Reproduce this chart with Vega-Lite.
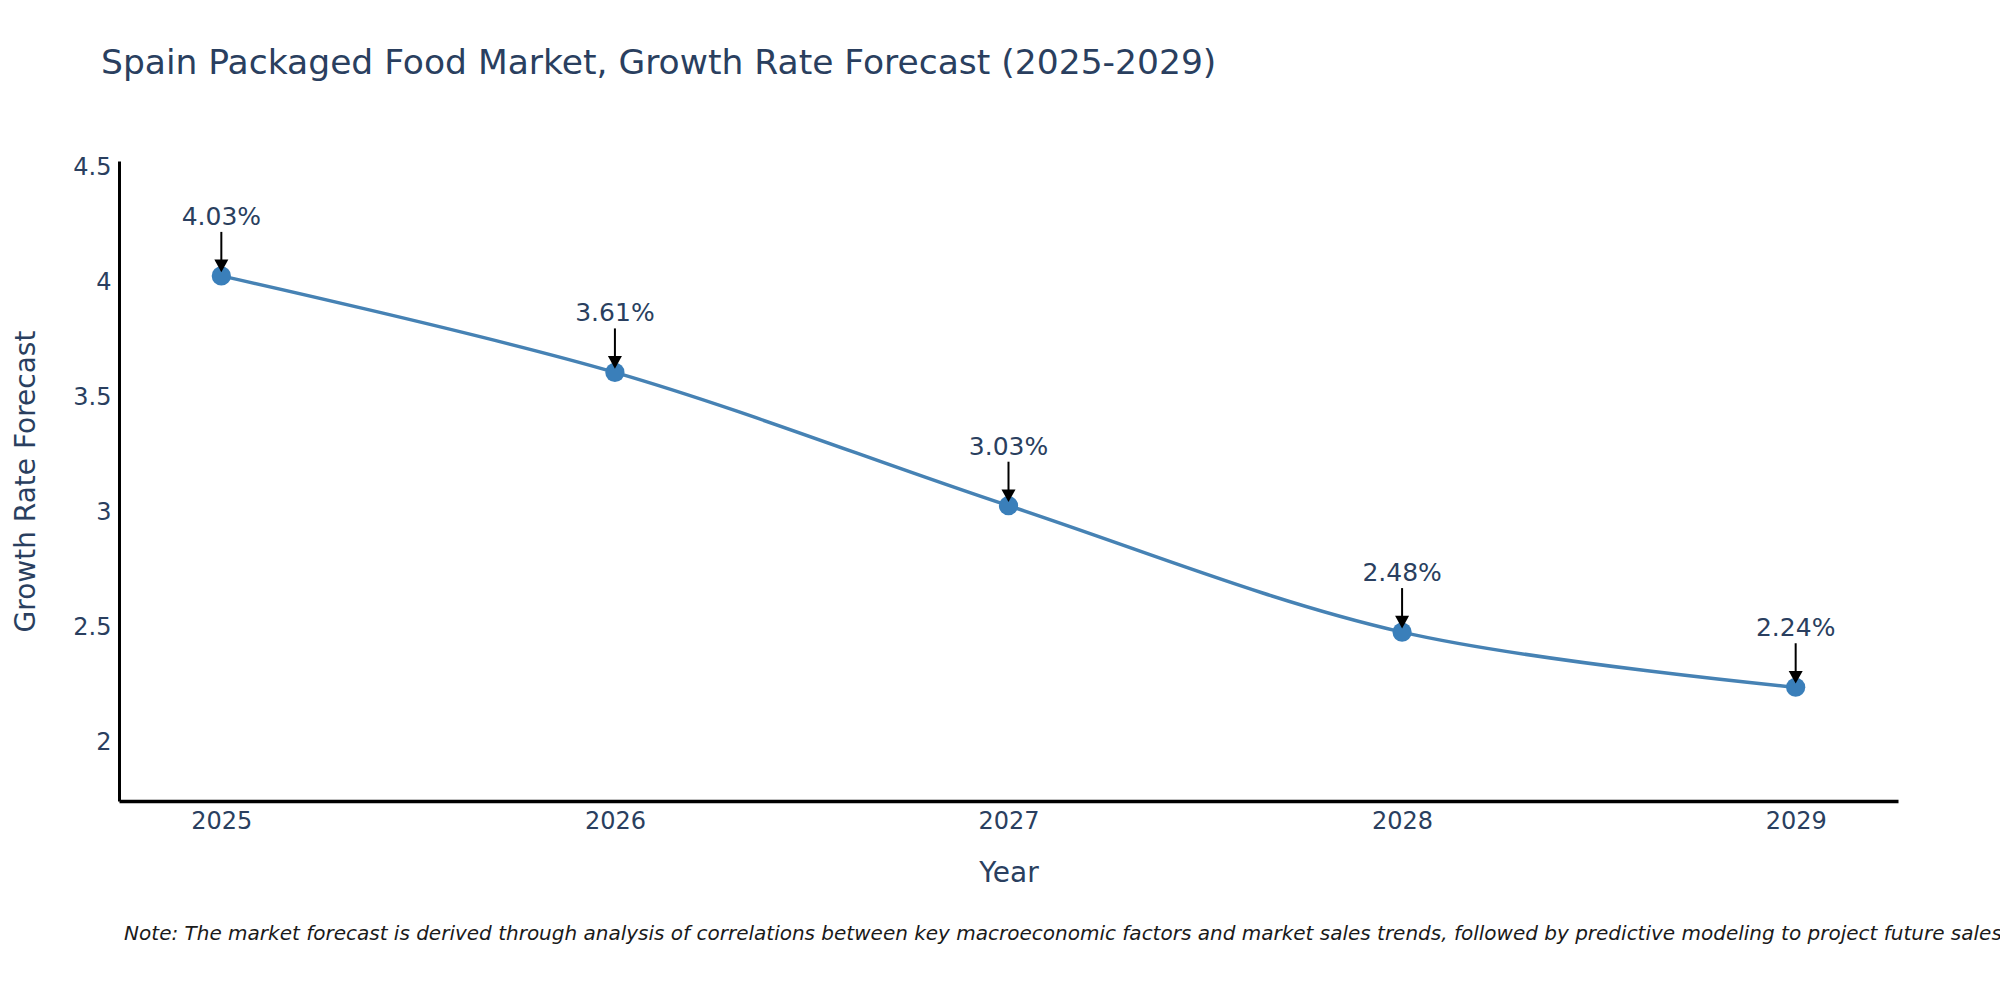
{
  "$schema": "https://vega.github.io/schema/vega-lite/v6.json",
  "width": 1779,
  "height": 640,
  "autosize": {"type": "none"},
  "padding": {"left": 119, "top": 161, "right": 102, "bottom": 199},
  "background": "white",
  "title": {
    "text": "Spain Packaged Food Market, Growth Rate Forecast (2025-2029)",
    "anchor": "start",
    "frame": "group",
    "dx": -18,
    "offset": 74,
    "font": "DejaVu Sans",
    "fontSize": 34.5,
    "fontWeight": "normal",
    "color": "#2a3f5f"
  },
  "config": {
    "view": {"stroke": null},
    "font": "DejaVu Sans"
  },
  "data": {
    "values": [
      {"Year": 2025, "Growth": 4.03, "Label": "4.03%"},
      {"Year": 2026, "Growth": 3.61, "Label": "3.61%"},
      {"Year": 2027, "Growth": 3.03, "Label": "3.03%"},
      {"Year": 2028, "Growth": 2.48, "Label": "2.48%"},
      {"Year": 2029, "Growth": 2.24, "Label": "2.24%"}
    ]
  },
  "encoding": {
    "x": {
      "field": "Year",
      "type": "quantitative",
      "scale": {"domain": [2024.74, 2029.26], "nice": false, "zero": false},
      "axis": {
        "title": "Year",
        "values": [2025, 2026, 2027, 2028, 2029],
        "format": "d",
        "grid": false,
        "ticks": false,
        "domainColor": "black",
        "domainWidth": 3.5,
        "labelFont": "DejaVu Sans",
        "labelFontSize": 24,
        "labelColor": "#2a3f5f",
        "labelPadding": 8,
        "titleFont": "DejaVu Sans",
        "titleFontSize": 28,
        "titleFontWeight": "normal",
        "titleColor": "#2a3f5f",
        "titlePadding": 26
      }
    },
    "y": {
      "field": "Growth",
      "type": "quantitative",
      "scale": {"domain": [1.745, 4.53], "nice": false, "zero": false},
      "axis": {
        "title": "Growth Rate Forecast",
        "values": [2, 2.5, 3, 3.5, 4, 4.5],
        "format": ".1~f",
        "grid": false,
        "ticks": false,
        "domainColor": "black",
        "domainWidth": 3,
        "labelFont": "DejaVu Sans",
        "labelFontSize": 24,
        "labelColor": "#2a3f5f",
        "labelPadding": 8,
        "titleFont": "DejaVu Sans",
        "titleFontSize": 28,
        "titleFontWeight": "normal",
        "titleColor": "#2a3f5f",
        "titlePadding": 32
      }
    }
  },
  "layer": [
    {
      "mark": {"type": "line", "interpolate": "catmull-rom", "color": "#4682b4", "strokeWidth": 3.5}
    },
    {
      "mark": {"type": "circle", "size": 370, "color": "#3a7fba", "opacity": 1}
    },
    {
      "mark": {"type": "rule", "color": "black", "strokeWidth": 2, "yOffset": -44, "y2Offset": -14},
      "encoding": {"y2": {"field": "Growth"}}
    },
    {
      "mark": {
        "type": "point",
        "shape": "M-1,-0.9L1,-0.9L0,0.9Z",
        "filled": true,
        "size": 196,
        "color": "black",
        "opacity": 1,
        "yOffset": -10
      }
    },
    {
      "mark": {
        "type": "text",
        "baseline": "middle",
        "align": "center",
        "dy": -59,
        "font": "DejaVu Sans",
        "fontSize": 25,
        "color": "#2a3f5f"
      },
      "encoding": {"text": {"field": "Label"}}
    },
    {
      "transform": [{"filter": "datum.Year == 2025"}],
      "mark": {
        "type": "text",
        "align": "left",
        "baseline": "alphabetic",
        "font": "DejaVu Sans",
        "fontStyle": "italic",
        "fontSize": 20,
        "color": "#1a1a1a"
      },
      "encoding": {
        "x": {"datum": 2024.753, "type": "quantitative"},
        "y": {"datum": 1.141, "type": "quantitative"},
        "text": {"value": "Note: The market forecast is derived through analysis of correlations between key macroeconomic factors and market sales trends, followed by predictive modeling to project future sales."}
      }
    }
  ]
}
